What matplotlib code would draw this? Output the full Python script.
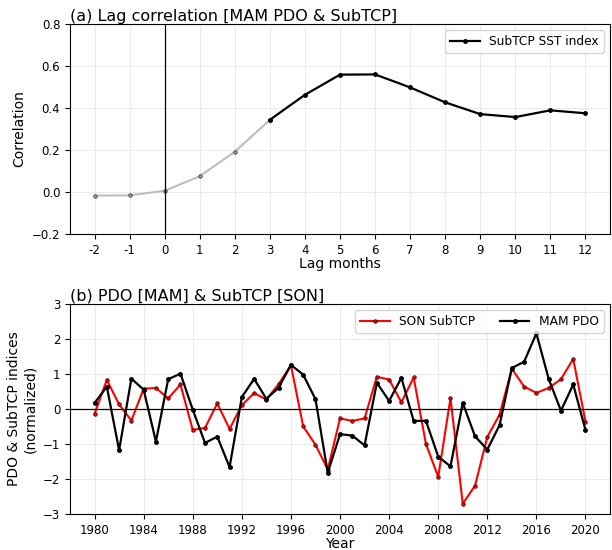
import numpy as np
import matplotlib
matplotlib.use("Agg")
import matplotlib.pyplot as plt

# lag correlation, MAM PDO vs SubTCP SST index
lags = [-2, -1, 0, 1, 2, 3, 4, 5, 6, 7, 8, 9, 10, 11, 12]
lag_labels = ["-2", "-1", "0", "1", "2", "3", "4", "5", "6", "7", "8", "9", "10", "11", "12"]
lag_corr = [-0.017, -0.016, 0.006, 0.075, 0.192, 0.344, 0.463, 0.559, 0.560,
            0.498, 0.427, 0.371, 0.357, 0.389, 0.375]

# normalized time series
years = list(range(1980, 2021))
son_subtcp = [-0.14, 0.83, 0.13, -0.33, 0.58, 0.60, 0.30, 0.70, -0.60, -0.54,
              0.16, -0.57, 0.11, 0.45, 0.27, 0.71, 1.25, -0.50, -1.02, -1.73,
              -0.27, -0.34, -0.27, 0.92, 0.84, 0.19, 0.90, -1.00, -1.94, 0.31,
              -2.71, -2.19, -0.80, -0.16, 1.15, 0.64, 0.46, 0.60, 0.85, 1.43,
              -0.36]
mam_pdo = [0.17, 0.64, -1.18, 0.87, 0.55, -0.93, 0.85, 1.01, -0.02, -0.97,
           -0.79, -1.66, 0.34, 0.86, 0.29, 0.61, 1.26, 0.98, 0.28, -1.82,
           -0.72, -0.76, -1.04, 0.75, 0.23, 0.89, -0.34, -0.34, -1.36, -1.64,
           0.17, -0.78, -1.16, -0.46, 1.17, 1.35, 2.16, 0.86, -0.05, 0.70,
           -0.60]

fig = plt.figure(figsize=(6.12, 5.5), dpi=100)
ax1 = fig.add_axes([0.1144, 0.5745, 0.8824, 0.3818])
ax2 = fig.add_axes([0.1144, 0.0655, 0.8824, 0.3818])

tick_fs = 8.5
lab_fs = 10
title_fs = 11.5
leg_fs = 8.8

# (a) -- grey for leads up to lag 3, black from lag 3 on
i3 = lags.index(3)
ax1.plot(lags[:i3 + 1], lag_corr[:i3 + 1], color="#bdbdbd", lw=1.5,
         marker="o", ms=2.5, mfc="#9a9a9a", mec="#444444", mew=0.6)
ax1.plot(lags[i3:], lag_corr[i3:], color="black", lw=1.6,
         marker="o", ms=2.5, mfc="black", mec="black", label="SubTCP SST index")
ax1.axvline(0, color="black", lw=0.9)
ax1.set_ylim(-0.2, 0.8)
ax1.set_yticks(np.arange(-0.2, 0.81, 0.2))
ax1.set_xticks(lags)
ax1.set_xticklabels(lag_labels)
ax1.set_xlabel("Lag months", fontsize=lab_fs, labelpad=0)
ax1.set_ylabel("Correlation", fontsize=lab_fs)
ax1.set_title("(a) Lag correlation [MAM PDO & SubTCP]", loc="left",
              fontsize=title_fs, pad=2)
ax1.legend(loc="upper right", fontsize=leg_fs, handlelength=2.4)

# (b)
ax2.plot(years, son_subtcp, color="red", lw=1.5, marker="o", ms=2.5,
         mfc="red", mec="#4a0000", mew=0.6, label="SON SubTCP")
ax2.plot(years, mam_pdo, color="black", lw=1.6, marker="o", ms=2.5,
         mfc="black", mec="black", label="MAM PDO")
ax2.axhline(0, color="black", lw=0.9)
ax2.set_ylim(-3, 3)
ax2.set_xticks(range(1980, 2021, 4))
ax2.set_xlabel("Year", fontsize=lab_fs, labelpad=0)
ax2.set_ylabel("PDO & SubTCP indices\n(normalized)", fontsize=lab_fs)
ax2.set_title("(b) PDO [MAM] & SubTCP [SON]", loc="left",
              fontsize=title_fs, pad=2)
ax2.legend(loc="upper right", ncol=2, fontsize=leg_fs, handlelength=2.4)

for ax in (ax1, ax2):
    ax.grid(True, color="#e6e6e6", lw=0.6)
    ax.set_axisbelow(True)
    ax.tick_params(labelsize=tick_fs)

fig.savefig("out.png", dpi=100)
